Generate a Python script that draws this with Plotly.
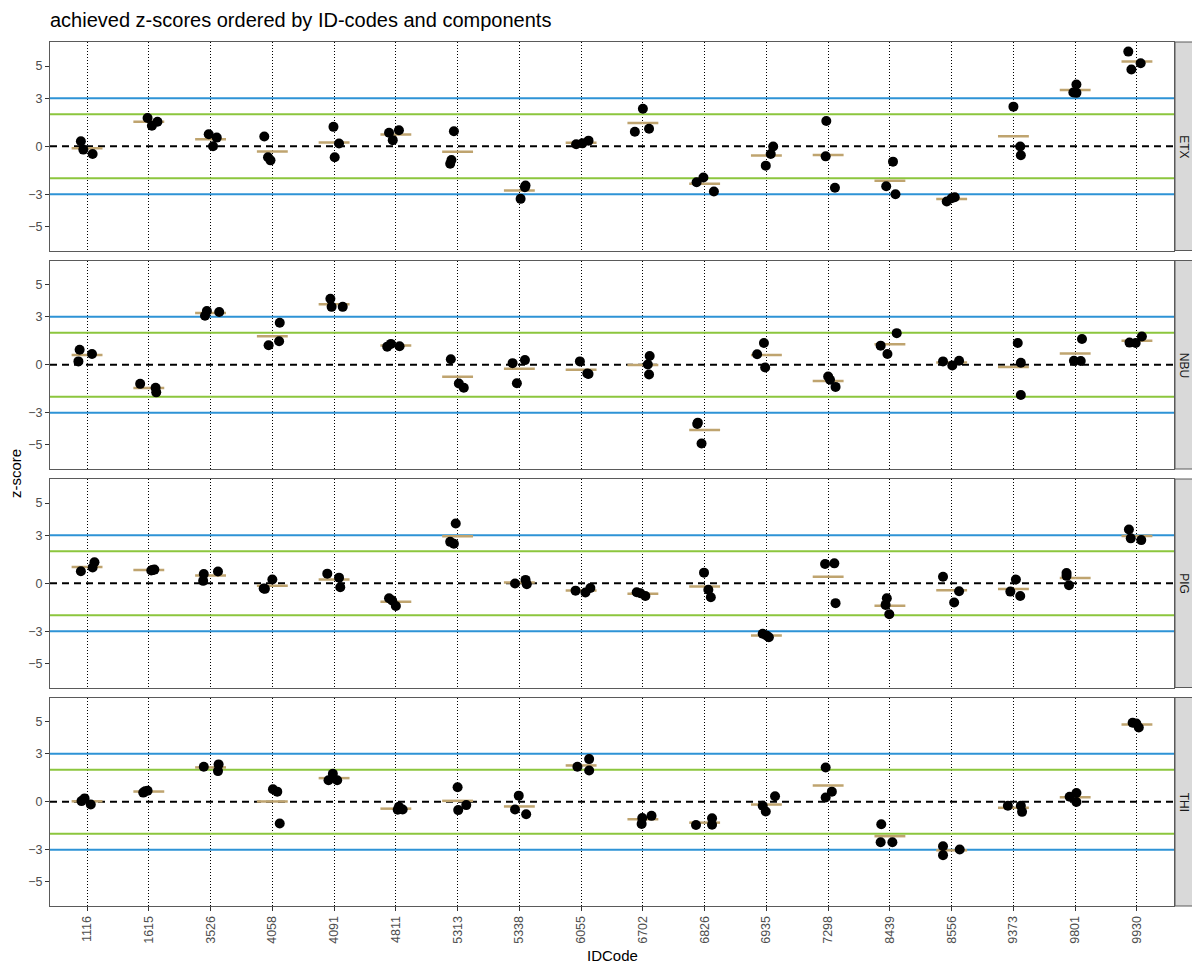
import plotly.graph_objects as go
from plotly.subplots import make_subplots

# ---------------- data ----------------
id_codes = ["1116", "1615", "3526", "4058", "4091", "4811", "5313", "5338", "6055",
            "6702", "6826", "6935", "7298", "8439", "8556", "9373", "9801", "9930"]
components = ["ETX", "NBU", "PIG", "THI"]

etx_z = [[0.31, -0.21, -0.48], [1.76, 1.28, 1.53], [0.75, 0.54, 0.00], [0.61, -0.69, -0.88],
         [1.21, 0.17, -0.69], [0.84, 0.38, 1.00], [0.94, -0.86, -1.09], [-2.45, -2.55, -3.28],
         [0.12, 0.18, 0.35], [2.34, 0.90, 1.09], [-2.24, -1.95, -2.82], [-0.02, -0.48, -1.21],
         [1.57, -0.63, -2.59], [-0.96, -2.49, -2.99], [-3.45, -3.24, -3.18], [2.47, -0.02, -0.56],
         [3.85, 3.35, 3.33], [5.90, 5.17, 4.79]]
etx_jit = [[-0.10, -0.06, 0.09], [-0.02, 0.05, 0.14], [-0.03, 0.10, 0.04], [-0.13, -0.07, -0.03],
           [-0.01, 0.08, 0.01], [-0.11, -0.05, 0.05], [-0.06, -0.10, -0.12], [0.10, 0.09, 0.02],
           [-0.08, 0.02, 0.12], [0.00, -0.13, 0.10], [-0.13, -0.02, 0.15], [0.11, 0.07, -0.01],
           [-0.03, -0.04, 0.11], [0.05, -0.06, 0.09], [-0.08, 0.00, 0.05], [0.00, 0.11, 0.12],
           [0.02, -0.03, 0.02], [-0.14, 0.06, -0.09]]

nbu_z = [[0.94, 0.21, 0.67], [-1.19, -1.43, -1.72], [3.35, 3.06, 3.29], [2.62, 1.22, 1.47],
         [4.11, 3.61, 3.61], [1.13, 1.30, 1.15], [0.34, -1.17, -1.43], [0.10, 0.29, -1.15],
         [0.21, -0.55, -0.58], [0.55, 0.02, -0.61], [-3.61, -4.91, -3.69], [1.36, 0.65, -0.17],
         [-0.73, -0.94, -1.38], [1.19, 1.97, 0.67], [0.21, -0.04, 0.25], [1.36, 0.13, -1.89],
         [1.61, 0.25, 0.23], [1.38, 1.36, 1.76]]
nbu_jit = [[-0.12, -0.14, 0.08], [-0.14, 0.11, 0.12], [-0.06, -0.09, 0.14], [0.12, -0.06, 0.11],
           [-0.06, -0.04, 0.14], [-0.14, -0.08, 0.06], [-0.11, 0.02, 0.10], [-0.11, 0.09, -0.04],
           [-0.02, 0.10, 0.12], [0.11, 0.08, 0.10], [-0.11, -0.05, -0.12], [-0.04, -0.15, -0.02],
           [0.00, 0.03, 0.12], [-0.15, 0.11, -0.04], [-0.14, 0.01, 0.12], [0.07, 0.12, 0.12],
           [0.11, -0.02, 0.09], [-0.12, -0.02, 0.08]]

pig_z = [[0.75, 0.98, 1.31], [0.80, 0.85, 0.82], [0.58, 0.15, 0.73], [-0.33, 0.23, -0.35],
         [0.60, 0.35, -0.25], [-0.94, -1.08, -1.42], [3.73, 2.58, 2.46], [-0.02, 0.21, -0.06],
         [-0.46, -0.58, -0.30], [-0.56, -0.62, -0.79], [0.66, -0.41, -0.87], [-3.15, -3.25, -3.37],
         [1.20, 1.24, -1.24], [-0.93, -1.35, -1.93], [0.41, -0.50, -1.20], [0.23, -0.52, -0.79],
         [0.64, 0.46, -0.12], [3.35, 2.80, 2.69]]
pig_jit = [[-0.10, 0.09, 0.12], [0.04, 0.09, 0.06], [-0.11, -0.12, 0.12], [-0.14, 0.00, -0.12],
           [-0.11, 0.08, 0.10], [-0.11, -0.06, 0.00], [-0.03, -0.12, -0.06], [-0.07, 0.10, 0.12],
           [-0.09, 0.07, 0.15], [-0.10, -0.04, 0.04], [-0.01, 0.06, 0.10], [-0.06, 0.00, 0.04],
           [-0.05, 0.10, 0.12], [-0.05, -0.07, -0.01], [-0.14, 0.12, 0.04], [0.04, -0.05, 0.11],
           [-0.14, -0.14, -0.10], [-0.13, -0.10, 0.07]]

thi_z = [[0.04, 0.21, -0.17], [0.57, 0.65, 0.69], [2.18, 2.33, 1.91], [0.78, 0.63, -1.36],
         [1.74, 1.34, 1.34], [-0.31, -0.50, -0.48], [0.90, -0.52, -0.21], [0.38, -0.48, -0.78],
         [2.18, 2.66, 1.95], [-1.01, -1.38, -0.88], [-1.45, -1.03, -1.43], [0.34, -0.25, -0.61],
         [2.14, 0.63, 0.27], [-1.40, -2.52, -2.52], [-2.77, -3.33, -2.98], [-0.25, -0.25, -0.63],
         [0.31, 0.55, -0.02], [4.93, 4.88, 4.63]]
thi_jit = [[-0.09, -0.04, 0.06], [-0.09, -0.06, -0.02], [-0.11, 0.13, 0.12], [0.01, 0.08, 0.12],
           [-0.02, -0.09, 0.05], [0.05, 0.03, 0.11], [0.00, 0.01, 0.14], [-0.01, -0.07, 0.11],
           [-0.06, 0.13, 0.13], [-0.01, -0.02, 0.14], [-0.14, 0.12, 0.12], [0.14, -0.06, -0.01],
           [-0.04, 0.06, -0.04], [-0.14, -0.15, 0.04], [-0.14, -0.14, 0.13], [-0.09, 0.12, 0.14],
           [-0.09, 0.02, 0.02], [-0.07, -0.01, 0.03]]

warn_limit = 2
action_limit = 3
y_ticks = [-5, -3, 0, 3, 5]

panels = [("ETX", etx_z, etx_jit), ("NBU", nbu_z, nbu_jit),
          ("PIG", pig_z, pig_jit), ("THI", thi_z, thi_jit)]

# ---------------- figure ----------------
W, H = 1192, 963
ML, MR, MT, MB = 50, 18, 42, 57
plot_w = W - ML - MR
plot_h = H - MT - MB
gap = 10

FONT = "Liberation Sans, Arial, sans-serif"
BLUE = "#2E93D6"
GREEN = "#8CC63E"
TAN = "#BFA46F"
BORDER = "#5A5A5A"

x_lo, x_hi = -0.6, len(id_codes) - 0.4

fig = make_subplots(rows=4, cols=1, shared_xaxes=True, vertical_spacing=gap / plot_h)

half_bar = 0.25
for r, (name, zs, jits) in enumerate(panels, start=1):
    # reference lines (limits and zero)
    for yv, col, dash in [(action_limit, BLUE, "solid"), (-action_limit, BLUE, "solid"),
                          (warn_limit, GREEN, "solid"), (-warn_limit, GREEN, "solid"),
                          (0, "black", "7px,5px")]:
        fig.add_trace(go.Scatter(x=[x_lo, x_hi], y=[yv, yv], mode="lines",
                                 line=dict(color=col, width=2, dash=dash),
                                 hoverinfo="skip", showlegend=False), row=r, col=1)
    # mean bars
    bx, by = [], []
    for i, vals in enumerate(zs):
        m = sum(vals) / len(vals)
        bx += [i - half_bar, i + half_bar, None]
        by += [m, m, None]
    fig.add_trace(go.Scatter(x=bx, y=by, mode="lines", line=dict(color=TAN, width=2.5),
                             hoverinfo="skip", showlegend=False), row=r, col=1)
    # points
    px, py = [], []
    for i, (vals, jit) in enumerate(zip(zs, jits)):
        for v, j in zip(vals, jit):
            px.append(i + j)
            py.append(v)
    fig.add_trace(go.Scatter(x=px, y=py, mode="markers",
                             marker=dict(color="black", size=10, line=dict(width=0)),
                             showlegend=False), row=r, col=1)

    yref = "y" if r == 1 else f"y{r}"
    # strip on the right
    fig.add_shape(type="rect", xref="paper", yref=f"{yref} domain",
                  x0=(1175 - ML) / plot_w, x1=(1205 - ML) / plot_w, y0=0, y1=1,
                  fillcolor="#D9D9D9", line=dict(color=BORDER, width=1))
    fig.add_annotation(xref="paper", yref=f"{yref} domain", x=(1184 - ML) / plot_w, y=0.5,
                       text=name, textangle=90, showarrow=False, xanchor="center", yanchor="middle",
                       font=dict(family=FONT, size=12, color="#1A1A1A"))

    fig.update_yaxes(row=r, col=1, range=[-6.5, 6.5], tickvals=y_ticks, ticks="outside",
                     ticklen=4, tickwidth=1, tickcolor="#333333", showgrid=False, zeroline=False,
                     showline=True, mirror=True, linecolor=BORDER, linewidth=1,
                     tickfont=dict(family=FONT, size=12.5, color="#4D4D4D"))
    fig.update_xaxes(row=r, col=1, range=[x_lo, x_hi],
                     tickvals=list(range(len(id_codes))), ticktext=id_codes,
                     showgrid=True, gridcolor="black", gridwidth=1, griddash="1px,2px",
                     zeroline=False, showline=True, mirror=True, linecolor=BORDER, linewidth=1,
                     ticks="outside" if r == 4 else "", ticklen=4, tickwidth=1, tickcolor="#333333",
                     showticklabels=(r == 4), tickangle=-90,
                     tickfont=dict(family=FONT, size=12.5, color="#4D4D4D"))

fig.add_annotation(xref="paper", yref="paper", x=(15 - ML) / plot_w, y=0.5, text="z-score",
                   textangle=-90, showarrow=False, xanchor="center", yanchor="middle",
                   font=dict(family=FONT, size=15, color="black"))
fig.add_annotation(xref="paper", yref="paper", x=0.5, y=-(955 - (H - MB)) / plot_h, text="IDCode",
                   showarrow=False, xanchor="center", yanchor="middle",
                   font=dict(family=FONT, size=15, color="black"))

fig.update_layout(
    width=W, height=H,
    margin=dict(l=ML, r=MR, t=MT, b=MB),
    paper_bgcolor="white", plot_bgcolor="white",
    title=dict(text="achieved z-scores ordered by ID-codes and components",
               x=ML / W, xanchor="left", xref="container", y=1 - 20 / H, yanchor="middle",
               font=dict(family=FONT, size=20, color="black")),
    showlegend=False,
)

fig.write_html("out.html", config={"displayModeBar": False},
               post_script="document.body.style.margin='0';document.body.style.padding='0';")
